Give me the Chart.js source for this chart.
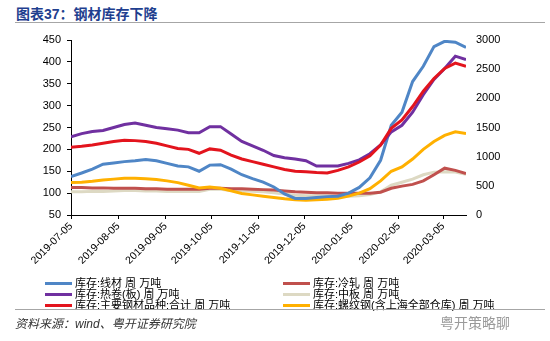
<!DOCTYPE html>
<html>
<head>
<meta charset="utf-8">
<script src="https://cdn.jsdelivr.net/npm/chart.js@4.4.1/dist/chart.umd.min.js"></script>
<style>
    body { margin: 0; background: #fff; font-family: "Liberation Sans", "Noto Sans CJK SC", sans-serif; }
    #wrap { position: relative; width: 550px; height: 341px; overflow: hidden; }
    #title { position: absolute; left: 16px; top: 3px; font-size: 14px; font-weight: bold; color: #1F3F8F; }
    .rule { position: absolute; left: 15px; width: 530px; height: 0; border-top: 1.5px solid #A6A6A6; }
    #chartBox { position: absolute; left: 0; top: 0; width: 550px; height: 280px; }
    #legend { position: absolute; left: 0; top: 278px; width: 550px; font-size: 11px; line-height: 11px; color: #000; }
    .item { position: absolute; white-space: nowrap; }
    .item i { position: absolute; top: 4px; width: 27px; height: 3px; }
    .item span { position: absolute; left: 30px; top: 0; }
    #source { position: absolute; left: 15px; top: 314px; font-size: 12px; font-style: italic; color: #333; }
    #mark { position: absolute; left: 440px; top: 312px; font-size: 14px; color: #9A9A9A; }
</style>
</head>
<body>
<div id="wrap">
    <div id="title">图表37：钢材库存下降</div>
    <div class="rule" style="top:22px"></div>
    <div id="chartBox"><canvas id="chart" width="550" height="280"></canvas></div>
    <div id="legend"></div>
    <div class="rule" style="top:309px"></div>
    <div id="source">资料来源：wind、粤开证券研究院</div>
    <div id="mark">粤开策略聊</div>
</div>
<script>
// ===== ДАННЫЕ (周, 万吨) =====
const dates = [
    '2019-07-05', '2019-07-12', '2019-07-19', '2019-07-26', '2019-08-02', '2019-08-09', '2019-08-16',
    '2019-08-23', '2019-08-30', '2019-09-06', '2019-09-13', '2019-09-20', '2019-09-27', '2019-10-04',
    '2019-10-11', '2019-10-18', '2019-10-25', '2019-11-01', '2019-11-08', '2019-11-15', '2019-11-22',
    '2019-11-29', '2019-12-06', '2019-12-13', '2019-12-20', '2019-12-27', '2020-01-03', '2020-01-10',
    '2020-01-17', '2020-01-24', '2020-01-31', '2020-02-07', '2020-02-14', '2020-02-21', '2020-02-28',
    '2020-03-06', '2020-03-13', '2020-03-20'
];

// левая ось
const wireRod = [138, 146, 155, 166, 169, 172, 174, 177, 174, 168, 162, 160, 150, 164, 165, 155, 142, 133, 125,
    114, 98, 88, 88, 90, 92, 93, 100, 113, 135, 175, 255, 285, 355, 390, 435, 447, 445, 433];
const coldRolled = [113, 113, 112, 112, 111, 111, 111, 110, 110, 109, 109, 109, 109, 111, 111, 110, 110, 109, 108,
    107, 105, 103, 102, 101, 101, 100, 100, 100, 100, 102, 111, 116, 120, 128, 142, 157, 152, 145];
const hotCoil = [229, 236, 241, 243, 250, 257, 260, 255, 250, 247, 244, 238, 238, 252, 252, 235, 218, 208, 198,
    186, 181, 178, 174, 162, 162, 162, 168, 176, 190, 210, 240, 255, 285, 325, 360, 385, 413, 405];
const plate = [103, 103, 104, 104, 105, 106, 106, 105, 105, 104, 104, 104, 104, 109, 109, 106, 105, 104, 103,
    101, 98, 95, 94, 94, 94, 93, 93, 94, 97, 103, 118, 125, 132, 142, 148, 149, 148, 143];

// правая ось
const totalMain = [1163, 1178, 1200, 1230, 1260, 1283, 1275, 1260, 1230, 1185, 1140, 1125, 1058, 1133, 1110, 1028,
    960, 915, 870, 825, 780, 750, 743, 728, 720, 765, 825, 908, 1013, 1200, 1485, 1628, 1860, 2123, 2340, 2513, 2603, 2550];
const rebar = [555, 563, 578, 600, 615, 630, 630, 623, 608, 585, 555, 510, 465, 480, 458, 413, 368, 345, 323,
    300, 278, 263, 255, 263, 270, 285, 323, 375, 450, 585, 750, 825, 960, 1125, 1260, 1365, 1425, 1395];

const xTickLabels = ['2019-07-05', '2019-08-05', '2019-09-05', '2019-10-05', '2019-11-05',
    '2019-12-05', '2020-01-05', '2020-02-05', '2020-03-05'];
const leftTicks = [50, 100, 150, 200, 250, 300, 350, 400, 450];
const rightTicks = [0, 500, 1000, 1500, 2000, 2500, 3000];

const FONT = '"Liberation Sans", "Noto Sans CJK SC", sans-serif';
const DAY = 86400000;
const start = Date.parse(dates[0]);
const dayOf = d => Math.round((Date.parse(d) - start) / DAY);

function pts(values) {
    return values.map((v, i) => ({ x: dayOf(dates[i]), y: v }));
}

// порядок легенды: слева / справа
const series = [
    { label: '库存:线材 周 万吨', data: wireRod, color: '#4F86C6', axis: 'yL', col: 0, row: 0 },
    { label: '库存:冷轧 周 万吨', data: coldRolled, color: '#C0504D', axis: 'yL', col: 1, row: 0 },
    { label: '库存:热卷(板) 周 万吨', data: hotCoil, color: '#7030A0', axis: 'yL', col: 0, row: 1 },
    { label: '库存:中板 周 万吨', data: plate, color: '#DDD9C3', axis: 'yL', col: 1, row: 1 },
    { label: '库存:主要钢材品种:合计 周 万吨', data: totalMain, color: '#E3141D', axis: 'yR', col: 0, row: 2 },
    { label: '库存:螺纹钢(含上海全部仓库) 周 万吨', data: rebar, color: '#FFB000', axis: 'yR', col: 1, row: 2 }
];

// ===== ЛЕГЕНДА =====
const legend = document.getElementById('legend');
series.forEach(s => {
    const el = document.createElement('div');
    el.className = 'item';
    el.style.left = (s.col === 0 ? 45 : 283) + 'px';
    el.style.top = (s.row * 11) + 'px';
    el.innerHTML = '<i style="background:' + s.color + '"></i><span>' + s.label + '</span>';
    legend.appendChild(el);
});

// ===== ГРАФИК =====
// рисуем сначала нижние линии, чтобы сверху были яркие
const drawOrder = [3, 1, 5, 0, 2, 4];

new Chart(document.getElementById('chart'), {
    type: 'line',
    data: {
        datasets: series.map((s, idx) => ({
            label: s.label,
            data: pts(s.data),
            yAxisID: s.axis,
            borderColor: s.color,
            backgroundColor: s.color,
            borderWidth: 3,
            pointRadius: 0,
            tension: 0,
            fill: false,
            order: drawOrder.length - drawOrder.indexOf(idx)
        }))
    },
    options: {
        responsive: false,
        animation: false,
        layout: { padding: { top: 40, right: 0, left: 0, bottom: 0 } },
        plugins: { legend: { display: false }, tooltip: { enabled: false } },
        scales: {
            x: {
                type: 'linear',
                min: 0,
                max: dayOf(dates[dates.length - 1]),
                afterBuildTicks: scale => {
                    scale.ticks = xTickLabels.map(d => ({ value: dayOf(d) }));
                },
                afterFit: scale => { scale.height = 65; },
                border: { display: true, color: '#000', width: 1 },
                grid: { drawOnChartArea: false, drawTicks: true, tickLength: 4, color: '#000' },
                ticks: {
                    autoSkip: false,
                    maxRotation: 45,
                    minRotation: 45,
                    padding: 1,
                    color: '#000',
                    font: { family: FONT, size: 10.5 },
                    callback: v => {
                        const d = new Date(start + v * DAY);
                        return d.toISOString().split('T')[0];
                    }
                }
            },
            yL: {
                position: 'left',
                min: 50,
                max: 450,
                afterBuildTicks: scale => { scale.ticks = leftTicks.map(v => ({ value: v })); },
                afterFit: scale => { scale.width = 71; },
                border: { display: true, color: '#000', width: 1 },
                grid: { drawOnChartArea: false, drawTicks: true, tickLength: 4, color: '#000' },
                ticks: { color: '#000', padding: 6, font: { family: FONT, size: 11 }, callback: v => String(v) }
            },
            yR: {
                position: 'right',
                min: 0,
                max: 3000,
                afterBuildTicks: scale => { scale.ticks = rightTicks.map(v => ({ value: v })); },
                afterFit: scale => { scale.width = 84; },
                border: { display: false },
                grid: { drawOnChartArea: false, drawTicks: false },
                ticks: { color: '#000', padding: 10, font: { family: FONT, size: 11 }, callback: v => String(v) }
            }
        }
    }
});
</script>
</body>
</html>
